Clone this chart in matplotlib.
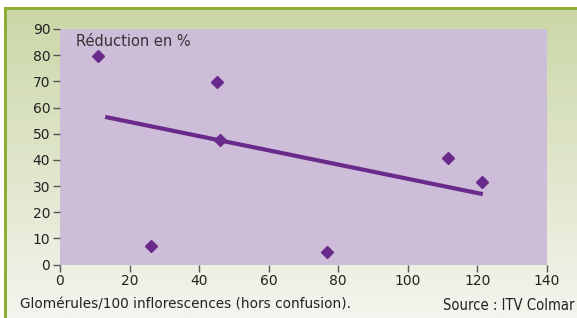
import numpy as np
import matplotlib.pyplot as plt
from matplotlib.patches import Rectangle

# data
glomerules = [11.0, 26.3, 45.1, 46.1, 76.9, 111.5, 121.3]
reduction = [79.8, 7.0, 69.7, 47.6, 4.7, 40.6, 31.5]
trend_x = [13.0, 121.6]
trend_y = [56.4, 26.9]
xticks = [0, 20, 40, 60, 80, 100, 120, 140]
yticks = [0, 10, 20, 30, 40, 50, 60, 70, 80, 90]

purple = '#6a2a8c'

fig = plt.figure(figsize=(5.77, 3.18), dpi=100)

# green gradient background
bg = fig.add_axes([0, 0, 1, 1], zorder=-10)
grad = np.linspace(0, 1, 256).reshape(-1, 1)
top = np.array([0xca, 0xd6, 0xa5]) / 255
bot = np.array([0xf3, 0xf5, 0xee]) / 255
img = top + (bot - top) * grad[:, :, None]
bg.imshow(img, aspect='auto', extent=[0, 1, 0, 1], origin='upper')
bg.set_xlim(0, 1)
bg.set_ylim(0, 1)
bg.axis('off')
W, H = 577, 318
# white margins and green border lines
bg.add_patch(Rectangle((0, 1 - 7 / H), 1, 7 / H, color='white', lw=0))
bg.add_patch(Rectangle((0, 0), 4 / W, 1, color='white', lw=0))
bg.add_patch(Rectangle((4 / W, 1 - 9.5 / H), 1, 2.5 / H, color='#8cae33', lw=0))
bg.add_patch(Rectangle((4 / W, 0), 3 / W, 1 - 7 / H, color='#8cae33', lw=0))

ax = fig.add_axes([60 / W, 1 - 264.5 / H, 486.7 / W, 235.5 / H])
ax.set_facecolor('#cdbdd9')
ax.plot(trend_x, trend_y, color=purple, lw=3, solid_capstyle='butt')
ax.plot(glomerules, reduction, 'D', color=purple, ms=6.5, mec=purple)
ax.set_xlim(0, 140)
ax.set_ylim(0, 90)
ax.set_xticks(xticks)
ax.set_yticks(yticks)
for s in ax.spines.values():
    s.set_visible(False)
ax.tick_params(direction='out', length=5, width=1, color='#555555',
               labelsize=10, labelcolor='#222222', pad=2)
ax.text(0.033, 0.945, 'Réduction en %', transform=ax.transAxes,
        fontsize=10.5, color='#333333', va='center')

fig.text(20 / W, 1 - 304 / H, 'Glomérules/100 inflorescences (hors confusion).',
         fontsize=9.8, color='#222222', va='center')
fig.text(443 / W, 1 - 306 / H, 'Source : ITV Colmar',
         family='DejaVu Sans', stretch='condensed',
         fontsize=10.6, color='#222222', va='center')

fig.savefig('out.png', dpi=100)
